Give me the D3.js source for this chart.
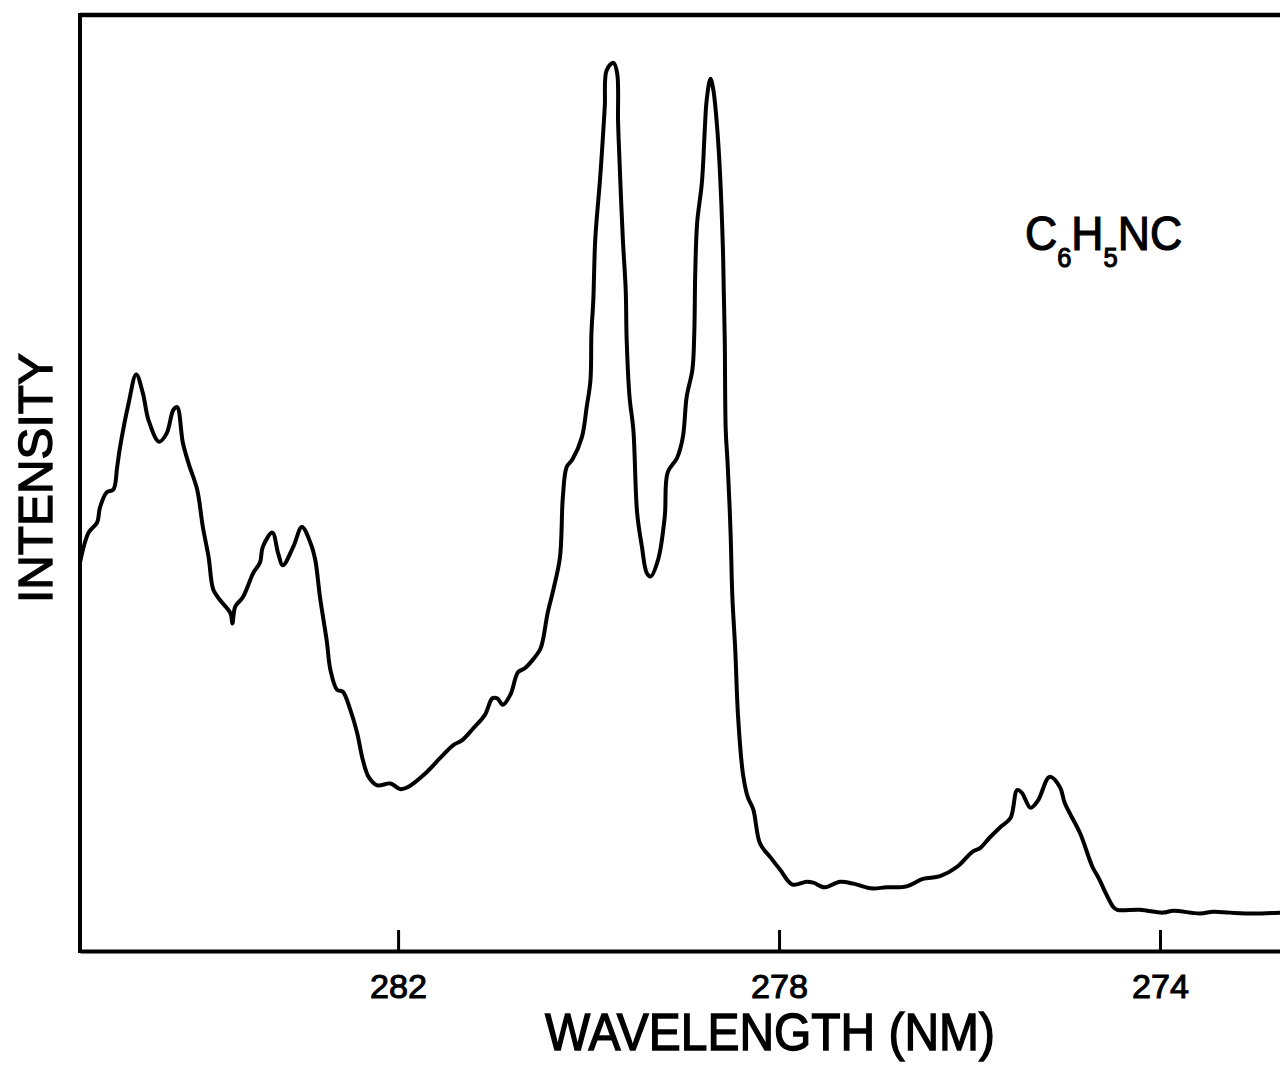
<!DOCTYPE html>
<html>
<head>
<meta charset="utf-8">
<script src="https://cdn.jsdelivr.net/npm/d3@7"></script>
<style>
  html, body { margin: 0; padding: 0; background: #fff; }
  svg { display: block; }
  text { font-family: "Liberation Sans", Arial, Helvetica, sans-serif; fill: #000; }
</style>
</head>
<body>
<script>
// ---- data ----
const wavelength = [
  285.34, 285.25, 285.16, 285.13, 285.06, 284.99, 284.95, 284.92, 284.83, 284.75,
  284.68, 284.62, 284.51, 284.43, 284.36, 284.32, 284.26, 284.20, 284.11, 284.05,
  283.99, 283.94, 283.87, 283.76, 283.74, 283.71, 283.63, 283.52, 283.45, 283.42,
  283.32, 283.26, 283.21, 283.10, 283.01, 282.92, 282.87, 282.82, 282.75, 282.71,
  282.64, 282.58, 282.50, 282.43, 282.37, 282.31, 282.22, 282.08, 281.98, 281.90,
  281.70, 281.56, 281.42, 281.33, 281.21, 281.09, 281.01, 280.96, 280.90, 280.82,
  280.74, 280.67, 280.51, 280.48, 280.43, 280.37, 280.30, 280.27, 280.23, 280.17,
  280.07, 280.02, 279.98, 279.97, 279.95, 279.93, 279.88, 279.86, 279.83, 279.81,
  279.74, 279.70, 279.69, 279.67, 279.64, 279.61, 279.60, 279.57, 279.53, 279.49,
  279.44, 279.39, 279.35, 279.27, 279.20, 279.17, 279.07, 279.01, 278.97, 278.91,
  278.89, 278.88, 278.86, 278.81, 278.78, 278.76, 278.72, 278.69, 278.65, 278.62,
  278.59, 278.58, 278.57, 278.56, 278.54, 278.51, 278.49, 278.46, 278.43, 278.38,
  278.33, 278.27, 278.20, 278.09, 277.99, 277.86, 277.71, 277.64, 277.52, 277.36,
  277.22, 277.04, 276.87, 276.66, 276.49, 276.31, 276.13, 275.97, 275.89, 275.79,
  275.68, 275.57, 275.50, 275.45, 275.36, 275.28, 275.16, 275.05, 275.00, 274.84,
  274.71, 274.65, 274.49, 274.45, 274.21, 273.97, 273.86, 273.58, 273.44, 273.27,
  273.02, 272.74
];
const intensity = [
  41.5, 44.7, 45.8, 47.4, 49.0, 49.3, 51.7, 53.8, 58.5, 61.6,
  59.6, 56.7, 54.4, 55.3, 57.8, 58.1, 54.3, 52.1, 49.3, 45.3,
  42.1, 38.6, 37.5, 36.1, 35.0, 36.8, 37.8, 40.4, 41.5, 43.2,
  44.7, 42.5, 41.2, 43.2, 45.3, 43.6, 41.8, 37.8, 33.2, 30.0,
  27.9, 27.7, 25.7, 23.3, 20.4, 18.6, 17.7, 17.9, 17.3, 17.5,
  19.1, 20.6, 22.0, 22.5, 23.8, 25.2, 27.0, 27.0, 26.3, 27.4,
  29.8, 30.2, 32.2, 33.2, 36.1, 38.6, 42.1, 48.5, 51.7, 52.5,
  54.9, 58.1, 61.0, 66.0, 69.6, 76.0, 82.4, 85.3, 90.2, 94.1,
  94.9, 93.8, 88.5, 83.1, 76.0, 70.6, 65.3, 59.2, 55.7, 46.8,
  43.2, 40.4, 40.0, 41.8, 46.4, 51.1, 52.7, 54.9, 59.2, 62.1,
  66.0, 72.4, 77.8, 82.1, 87.7, 90.9, 93.2, 92.0, 88.0, 83.1,
  75.2, 70.3, 65.3, 55.7, 52.1, 45.0, 37.8, 32.2, 25.0, 19.0,
  16.5, 15.1, 11.5, 10.0, 8.7, 7.1, 7.4, 7.3, 6.8, 7.4,
  7.2, 6.7, 6.8, 6.9, 7.7, 8.0, 9.0, 10.6, 11.0, 12.1,
  13.2, 14.2, 17.2, 16.9, 15.3, 16.1, 18.6, 17.5, 15.8, 12.6,
  9.0, 7.9, 4.7, 4.4, 4.4, 4.1, 4.3, 4.0, 4.2, 4.1,
  4.0, 4.1
];
const xTicks = [282, 278, 274];
const xDomain = [285.34, 272.74];
const yDomain = [0, 100];
const xLabel = "WAVELENGTH (NM)";
const yLabel = "INTENSITY";
const compound = [{t: "C", sub: false}, {t: "6", sub: true}, {t: "H", sub: false}, {t: "5", sub: true}, {t: "NC", sub: false}];

// ---- layout ----
const W = 1280, H = 1066;
const margin = {top: 15, right: 0, bottom: 115, left: 80};
const iw = W - margin.left - margin.right;
const ih = H - margin.top - margin.bottom;

const svg = d3.select("body").append("svg").attr("width", W).attr("height", H);
const g = svg.append("g").attr("transform", `translate(${margin.left},${margin.top})`);

const x = d3.scaleLinear().domain(xDomain).range([0, iw]);
const y = d3.scaleLinear().domain(yDomain).range([ih, 0]);

// frame: top and left lines
g.append("line").attr("x1", 0).attr("x2", iw).attr("y1", 0).attr("y2", 0)
  .attr("stroke", "#000").attr("stroke-width", 4.5);
g.append("line").attr("x1", 0).attr("x2", 0).attr("y1", -2).attr("y2", ih + 2)
  .attr("stroke", "#000").attr("stroke-width", 4);

// bottom axis
const xAxis = d3.axisBottom(x).tickValues(xTicks).tickSize(-21).tickSizeOuter(0).tickPadding(24)
  .tickFormat(d3.format("d"));
const ax = g.append("g").attr("transform", `translate(0,${ih})`).call(xAxis);
ax.select(".domain").attr("stroke", "#000").attr("stroke-width", 4);
ax.selectAll(".tick line").attr("stroke", "#000").attr("stroke-width", 3);
ax.selectAll(".tick text")
  .attr("font-size", 33).attr("dy", "0.71em")
  .attr("textLength", 57).attr("lengthAdjust", "spacingAndGlyphs")
  .style("font-family", "'Liberation Sans', Arial, sans-serif")
  .attr("stroke", "#000").attr("stroke-width", 1);

// spectrum
const line = d3.line()
  .x((d, i) => x(wavelength[i]))
  .y((d, i) => y(intensity[i]))
  .curve(d3.curveCatmullRom.alpha(0.5));
g.append("path").datum(intensity)
  .attr("d", line)
  .attr("fill", "none").attr("stroke", "#000").attr("stroke-width", 4)
  .attr("stroke-linejoin", "round").attr("stroke-linecap", "round");

// axis titles
svg.append("text")
  .attr("x", 770).attr("y", 1050)
  .attr("text-anchor", "middle").attr("font-size", 52)
  .attr("textLength", 450).attr("lengthAdjust", "spacingAndGlyphs")
  .attr("stroke", "#000").attr("stroke-width", 1.4)
  .text(xLabel);

svg.append("text")
  .attr("transform", "translate(52,478) rotate(-90)")
  .attr("text-anchor", "middle").attr("font-size", 49)
  .attr("textLength", 250).attr("lengthAdjust", "spacingAndGlyphs")
  .attr("stroke", "#000").attr("stroke-width", 1.4)
  .text(yLabel);

// compound label (horizontally condensed with a transform, no glyph squeezing)
const ct = svg.append("text")
  .attr("transform", "translate(1025,250) scale(0.91,1)")
  .attr("x", 0).attr("y", 0)
  .attr("stroke", "#000").attr("stroke-width", 1.2);
compound.forEach((p, i) => {
  const prevSub = i > 0 && compound[i - 1].sub;
  ct.append("tspan")
    .attr("font-size", p.sub ? 28 : 49)
    .attr("dy", p.sub ? 17 : (prevSub ? -17 : 0))
    .text(p.t);
});
</script>
</body>
</html>
